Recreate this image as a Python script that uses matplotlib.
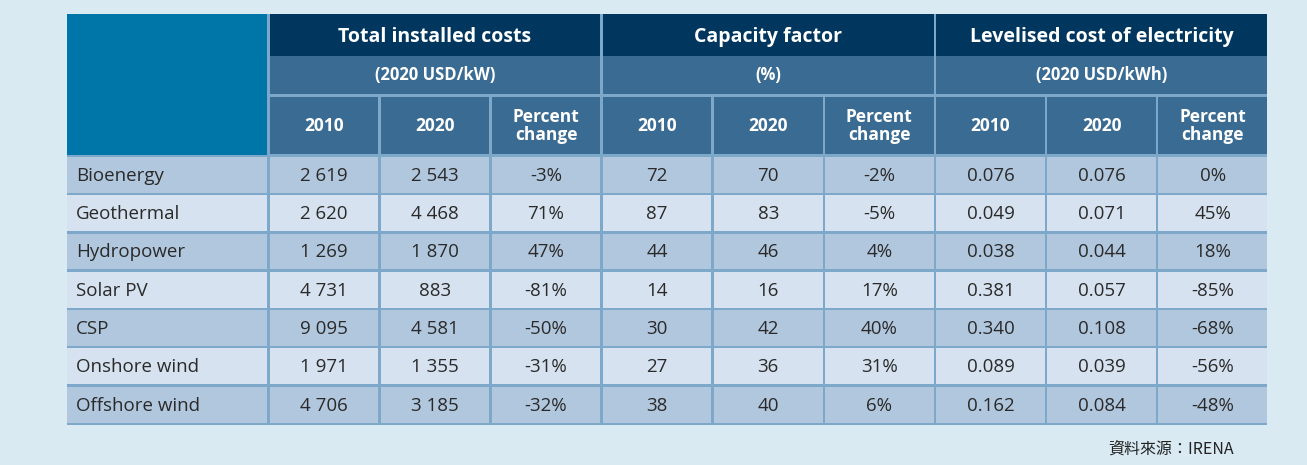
import matplotlib
matplotlib.use("Agg")
import matplotlib.pyplot as plt
from matplotlib.patches import Rectangle

technologies = ["Bioenergy", "Geothermal", "Hydropower", "Solar PV", "CSP", "Onshore wind", "Offshore wind"]
groups = ["Total installed costs", "Capacity factor", "Levelised cost of electricity"]
units = ["(2020 USD/kW)", "(%)", "(2020 USD/kWh)"]
subcols = ["2010", "2020", "Percent\nchange"]
cost_2010 = ["2 619", "2 620", "1 269", "4 731", "9 095", "1 971", "4 706"]
cost_2020 = ["2 543", "4 468", "1 870", "883", "4 581", "1 355", "3 185"]
cost_pct = ["-3%", "71%", "47%", "-81%", "-50%", "-31%", "-32%"]
cf_2010 = ["72", "87", "44", "14", "30", "27", "38"]
cf_2020 = ["70", "83", "46", "16", "42", "36", "40"]
cf_pct = ["-2%", "-5%", "4%", "17%", "40%", "31%", "6%"]
lcoe_2010 = ["0.076", "0.049", "0.038", "0.381", "0.340", "0.089", "0.162"]
lcoe_2020 = ["0.076", "0.071", "0.044", "0.057", "0.108", "0.039", "0.084"]
lcoe_pct = ["0%", "45%", "18%", "-85%", "-68%", "-56%", "-48%"]
source = "資料來源：IRENA"

cols_data = [cost_2010, cost_2020, cost_pct, cf_2010, cf_2020, cf_pct, lcoe_2010, lcoe_2020, lcoe_pct]

W, H = 1307, 465
fig = plt.figure(figsize=(W/100, H/100), dpi=100)
fig.patch.set_facecolor("#d9eaf2")
ax = fig.add_axes([0, 0, 1, 1])
ax.set_xlim(0, W); ax.set_ylim(H, 0); ax.axis("off")

SEP = "#7ea8c9"; DARK = "#01365e"; MID = "#3a6b93"; LEFT = "#0075a8"
ODD = "#b1c7de"; EVEN = "#d6e2ef"
FONT = ["Open Sans", "DejaVu Sans"]

x0, x1 = 67, 1267
ax.add_patch(Rectangle((x0, 14), x1 - x0, 425 - 14, color=SEP, lw=0))

left_w = 200
gw = (x1 - x0 - left_w) / 3
sw = gw / 3
g = 2.5

def cell(x, y, w, h, c):
    ax.add_patch(Rectangle((x, y), w, h, color=c, lw=0))

cell(x0, 14, left_w, 141, LEFT)
for gi in range(3):
    gx = x0 + left_w + gi * gw + g
    cell(gx, 14, gw - g, 42, DARK)
    ax.text(gx + (gw - g)/2, 37, groups[gi], ha="center", va="center", color="white",
            fontsize=14, fontweight="bold", family=FONT)
    cell(gx, 56, gw - g, 38, MID)
    ax.text(gx + (gw - g)/2, 75, units[gi], ha="center", va="center", color="white",
            fontsize=12, fontweight="bold", family=FONT)
    for si in range(3):
        sx = gx + si * sw
        ww = sw - g
        cell(sx, 97, ww, 57, MID)
        ax.text(sx + ww/2, 125.5, subcols[si], ha="center", va="center", color="white",
                fontsize=12.5, fontweight="bold", family=FONT, linespacing=1.0)

row_top = 157
rh = (425 - row_top) / 7
for ri, name in enumerate(technologies):
    y = row_top + ri * rh
    c = ODD if ri % 2 == 0 else EVEN
    hh = rh - g
    cell(x0, y, left_w, hh, c)
    ax.text(x0 + 9, y + hh/2 + 1, name, ha="left", va="center", color="#2a2a2a",
            fontsize=13.5, family=FONT)
    for ci, col in enumerate(cols_data):
        gi, si = divmod(ci, 3)
        sx = x0 + left_w + gi * gw + g + si * sw
        ww = sw - g
        cell(sx, y, ww, hh, c)
        ax.text(sx + ww/2, y + hh/2 + 1, col[ri], ha="center", va="center", color="#2a2a2a",
                fontsize=13.5, family=FONT)

ax.text(1234, 449, source, ha="right", va="center", color="#222222", fontsize=11.5,
        family=["Noto Sans CJK TC", "DejaVu Sans"])

fig.savefig("out.png", dpi=100, facecolor=fig.get_facecolor())
